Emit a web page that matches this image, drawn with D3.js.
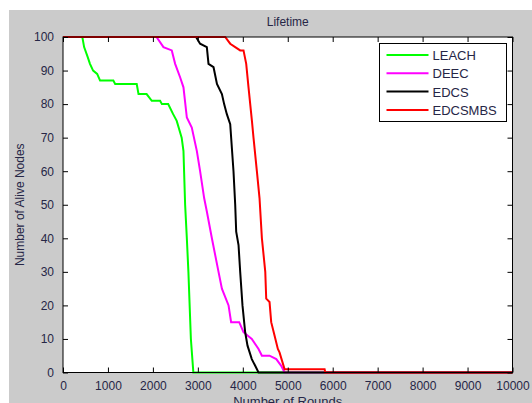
<!DOCTYPE html>
<html>
<head>
<meta charset="utf-8">
<script src="https://cdn.jsdelivr.net/npm/d3@7"></script>
<style>
  body { margin: 0; background: #fff; }
  svg { display: block; }
  text { font-family: "Liberation Sans", Arial, sans-serif; fill: #262646; }
</style>
</head>
<body>
<div id="chart"></div>
<script>
// data (rounds vs alive nodes)
var seriesNames = ["LEACH", "DEEC", "EDCS", "EDCSMBS"];
var seriesColors = ["#00ff00", "#ff00ff", "#000000", "#ff0000"];

var leachX = [0, 430, 470, 550, 600, 670, 760, 825, 1120, 1160, 1640, 1680, 1860, 1975, 2160, 2200, 2340, 2450, 2530, 2640, 2680, 2717, 2755, 2790, 2845, 2900, 10000];
var leachY = [100, 100, 97, 94, 92, 90, 89, 87, 87, 86, 86, 83, 83, 81, 81, 80, 80, 77, 75, 70, 66, 50, 40, 30, 10, 0, 0];

var deecX = [0, 2080, 2235, 2420, 2495, 2605, 2680, 2755, 2865, 2978, 3050, 3140, 3200, 3312, 3460, 3535, 3683, 3740, 3920, 4016, 4200, 4350, 4425, 4595, 4745, 4855, 4930, 10000];
var deecY = [100, 100, 97, 96, 92, 88, 85, 76, 73, 66, 60, 52, 48, 40, 30, 25, 20, 15, 15, 12, 10, 7, 5, 5, 4, 2, 0, 0];

var edcsX = [0, 2960, 3050, 3200, 3237, 3349, 3425, 3535, 3585, 3645, 3720, 3793, 3831, 3853, 3905, 3942, 3993, 4053, 4105, 4200, 4276, 4350, 10000];
var edcsY = [100, 100, 98, 97, 92, 91, 86, 83, 80, 77, 74, 60, 50, 42, 38, 30, 20, 12, 8, 4, 2, 0, 0];

var mbsX = [0, 3608, 3720, 3831, 3942, 4016, 4076, 4127, 4203, 4238, 4313, 4372, 4425, 4500, 4521, 4595, 4632, 4706, 4780, 4817, 4929, 5820, 5835, 10000];
var mbsY = [100, 100, 98, 97, 96, 96, 92, 85, 75, 70, 60, 52, 40, 30, 22, 21, 15, 11, 7, 6, 1, 1, 0, 0];

var xTicks = [0, 1000, 2000, 3000, 4000, 5000, 6000, 7000, 8000, 9000, 10000];
var yTicks = [0, 10, 20, 30, 40, 50, 60, 70, 80, 90, 100];

var allX = [leachX, deecX, edcsX, mbsX];
var allY = [leachY, deecY, edcsY, mbsY];

// svg container
var svgWidth = 532, svgHeight = 403;
var margin = { top: 37, right: 19.5, bottom: 30.5, left: 63 };
var chartWidth = svgWidth - margin.left - margin.right;
var chartHeight = svgHeight - margin.top - margin.bottom;

var svg = d3.select("#chart").append("svg")
    .attr("width", svgWidth)
    .attr("height", svgHeight);

// matlab grey figure background
svg.append("rect")
    .attr("x", 9).attr("y", 10)
    .attr("width", svgWidth - 9).attr("height", svgHeight - 10)
    .attr("fill", "#cbcbcb");

var chartGroup = svg.append("g")
    .attr("transform", `translate(${margin.left}, ${margin.top})`);

chartGroup.append("rect")
    .attr("width", chartWidth).attr("height", chartHeight)
    .attr("fill", "#fff");

var xScale = d3.scaleLinear().domain([0, 10000]).range([0, chartWidth]);
var yScale = d3.scaleLinear().domain([0, 100]).range([chartHeight, 0]);

// data lines
var line = d3.line()
    .x(d => xScale(d[0]))
    .y(d => yScale(d[1]));

seriesNames.forEach(function(name, i) {
    var pts = allX[i].map((x, j) => [x, allY[i][j]]);
    chartGroup.append("path")
        .datum(pts)
        .attr("fill", "none")
        .attr("stroke", seriesColors[i])
        .attr("stroke-width", 2)
        .attr("d", line);
});

// axes, ticks pointing inward
function styleAxis(g) {
    g.select(".domain").remove();
    g.selectAll(".tick line").attr("stroke", "#000");
    g.selectAll(".tick text")
        .style("font-family", "'Liberation Sans', Arial, sans-serif")
        .style("font-size", "12px")
        .attr("fill", "#262646");
}

chartGroup.append("g")
    .attr("transform", `translate(0, ${chartHeight})`)
    .call(d3.axisBottom(xScale).tickValues(xTicks).tickFormat(d3.format("d")).tickSizeInner(-5).tickSizeOuter(0).tickPadding(9))
    .call(styleAxis);

chartGroup.append("g")
    .call(d3.axisTop(xScale).tickValues(xTicks).tickSizeInner(-5).tickSizeOuter(0).tickFormat(""))
    .call(styleAxis);

chartGroup.append("g")
    .call(d3.axisLeft(yScale).tickValues(yTicks).tickSizeInner(-5).tickSizeOuter(0).tickPadding(9))
    .call(styleAxis);

chartGroup.append("g")
    .attr("transform", `translate(${chartWidth}, 0)`)
    .call(d3.axisRight(yScale).tickValues(yTicks).tickSizeInner(-5).tickSizeOuter(0).tickFormat(""))
    .call(styleAxis);

// box
chartGroup.append("rect")
    .attr("width", chartWidth).attr("height", chartHeight)
    .attr("fill", "none").attr("stroke", "#000").attr("stroke-width", 1);

// title and labels
svg.append("text")
    .attr("x", margin.left + chartWidth / 2).attr("y", 26)
    .attr("text-anchor", "middle").style("font-size", "12px")
    .text("Lifetime");

svg.append("text")
    .attr("x", margin.left + chartWidth / 2).attr("y", 406)
    .attr("text-anchor", "middle").style("font-size", "13px")
    .text("Number of Rounds");

svg.append("text")
    .attr("transform", `translate(24, ${margin.top + chartHeight / 2}) rotate(-90)`)
    .attr("text-anchor", "middle").style("font-size", "12px")
    .text("Number of Alive Nodes");

// legend
var legend = svg.append("g").attr("transform", "translate(379.5, 43.5)");
legend.append("rect")
    .attr("width", 127).attr("height", 78)
    .attr("fill", "#fff").attr("stroke", "#000").attr("stroke-width", 1);

seriesNames.forEach(function(name, i) {
    var yy = 11.5 + i * 18.3;
    legend.append("line")
        .attr("x1", 7).attr("x2", 49)
        .attr("y1", yy).attr("y2", yy)
        .attr("stroke", seriesColors[i]).attr("stroke-width", 2);
    legend.append("text")
        .attr("x", 53).attr("y", yy + 5)
        .style("font-size", "13px")
        .text(name);
});
</script>
</body>
</html>
